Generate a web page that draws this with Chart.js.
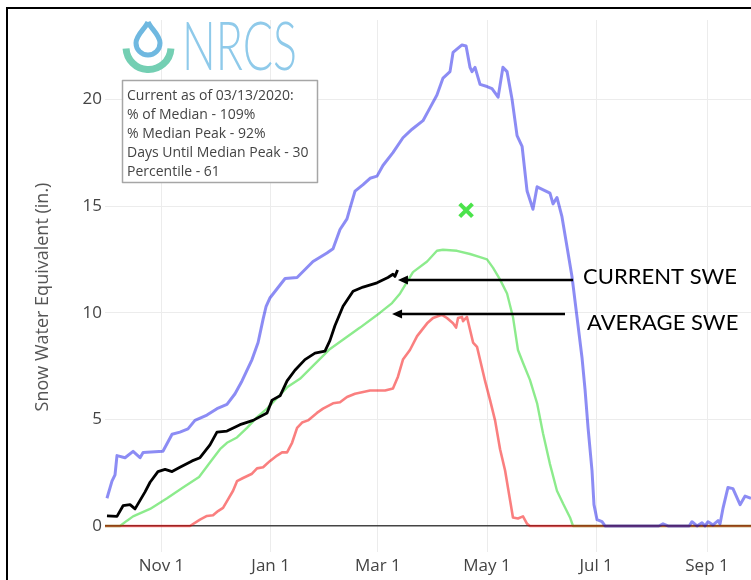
<!DOCTYPE html>
<html>
<head>
<meta charset="utf-8">
<script src="https://cdn.jsdelivr.net/npm/chart.js@4.4.1/dist/chart.umd.min.js"></script>
<style>
  html, body { margin: 0; padding: 0; background: #fff; }
  #wrap { position: relative; width: 751px; height: 580px; overflow: hidden; }
  #frame { position: absolute; left: 6px; top: 7px; width: 760px; height: 600px;
           border-left: 2px solid #000; border-top: 2px solid #000; pointer-events: none; }
  #swe { position: absolute; left: 0; top: 0; }
</style>
</head>
<body>
<div id="wrap">
  <canvas id="swe" width="751" height="580"></canvas>
  <div id="frame"></div>
</div>
<script>
// giorni dal 1 ottobre 2019 (anno idrologico 2020), valori SWE in pollici

// massimo storico (blu)
const MAX_DAYS = [0.5, 3.3, 5.0, 6.1, 10.6, 15.1, 19.0, 20.7, 31.8, 36.9, 41.3, 45.8, 49.7, 56.4, 62.0, 67.6, 72.1, 76.0,
  81.6, 85.0, 87.8, 89.5, 91.7, 100.1, 106.8, 115.7, 123.5, 126.9, 130.8, 134.7, 136.4, 139.2, 143.7, 147.6, 151.5, 154.8,
  160.4, 166.0, 171.1, 177.2, 181.1, 185.0, 188.4, 192.3, 194.0, 199.0, 201.3, 203.5, 204.6, 206.3, 209.1, 213.0, 215.8,
  219.2, 221.9, 224.2, 227.0, 229.8, 232.6, 235.4, 238.7, 241.0, 248.2, 249.9, 252.1, 254.9, 257.7, 260.5, 263.3, 266.1,
  267.8, 269.5, 271.7, 272.8, 274.5, 277.3, 279.0, 309.0, 311.4, 314.2, 326.0, 327.6, 330.4, 333.2, 334.9, 336.6, 339.4,
  342.2, 343.3, 345.0, 347.7, 350.5, 354.5, 357.3, 360.6];
const MAX_SWE = [1.3, 2.1, 2.4, 3.3, 3.2, 3.5, 3.2, 3.45, 3.5, 4.3, 4.4, 4.55, 4.95, 5.2, 5.5, 5.7, 6.2, 6.8,
  7.8, 8.6, 9.7, 10.3, 10.7, 11.6, 11.65, 12.4, 12.8, 13.0, 13.9, 14.4, 14.9, 15.7, 16.0, 16.3, 16.4, 16.9,
  17.5, 18.2, 18.6, 19.0, 19.6, 20.2, 21.0, 21.3, 22.2, 22.55, 22.5, 21.5, 21.3, 21.5, 20.7, 20.6, 20.5,
  20.1, 21.5, 21.3, 20.0, 18.3, 17.8, 15.7, 14.85, 15.9, 15.6, 15.1, 15.4, 14.5, 13.1, 11.7, 9.8, 7.9,
  6.4, 4.6, 2.6, 1.0, 0.3, 0.2, 0, 0, 0.1, 0, 0, 0.2, 0, 0.15, 0, 0.2, 0.05,
  0.25, 0.1, 0.85, 1.8, 1.75, 1.0, 1.4, 1.3];

// mediana (verde)
const MED_DAYS = [-0.6, 7.8, 11.7, 15.1, 24.6, 34.1, 43.0, 52.0, 58.7, 63.7, 67.6, 73.2, 78.8, 84.4, 90.0, 95.6, 101.2,
  108.4, 116.8, 125.2, 133.6, 142.0, 153.2, 159.9, 164.4, 171.6, 179.5, 185.0, 188.4, 196.2, 203.5, 209.1, 213.0,
  216.4, 220.3, 224.2, 227.5, 230.3, 233.1, 237.0, 241.0, 244.3, 248.2, 252.1, 255.5, 259.4, 261.1, 360.6];
const MED_SWE = [0, 0, 0.25, 0.45, 0.8, 1.3, 1.8, 2.3, 3.05, 3.6, 3.9, 4.15, 4.6, 5.1, 5.5, 6.0, 6.5,
  6.9, 7.6, 8.3, 8.8, 9.3, 10.0, 10.45, 10.9, 11.9, 12.4, 12.9, 12.95, 12.9, 12.75, 12.6, 12.5,
  12.1, 11.55, 10.9, 9.8, 8.25, 7.65, 6.85, 5.75, 4.35, 2.9, 1.65, 1.05, 0.4, 0, 0];

// minimo storico (rosso)
const MIN_DAYS = [-0.6, 46.9, 52.5, 56.4, 59.8, 62.6, 65.4, 68.2, 71.0, 73.2, 76.6, 81.6, 84.4, 87.8, 91.7, 95.6, 98.4,
  101.2, 104.0, 106.8, 109.6, 112.9, 117.9, 121.3, 126.9, 130.8, 134.7, 139.2, 147.6, 156.0, 160.4, 163.2, 166.0,
  169.9, 173.9, 179.5, 182.8, 187.8, 190.6, 194.0, 195.7, 196.8, 199.0, 199.6, 201.8, 203.5, 205.2, 207.4, 211.9,
  214.7, 217.5, 220.3, 223.1, 225.9, 227.5, 230.3, 233.1, 235.4, 237.0, 360.6];
const MIN_SWE = [0, 0, 0.3, 0.47, 0.5, 0.7, 0.85, 1.25, 1.65, 2.1, 2.25, 2.45, 2.7, 2.75, 3.05, 3.3, 3.45,
  3.45, 3.9, 4.6, 4.85, 4.95, 5.3, 5.5, 5.75, 5.8, 6.05, 6.2, 6.35, 6.35, 6.45, 7.0, 7.8,
  8.25, 8.9, 9.5, 9.75, 9.9, 9.75, 9.5, 9.3, 9.75, 9.8, 9.6, 9.8, 9.2, 8.6, 8.4, 6.8,
  5.9, 4.95, 3.6, 2.6, 1.2, 0.4, 0.35, 0.45, 0.1, 0, 0];

// anno corrente (nero)
const CUR_DAYS = [0.5, 6.1, 9.5, 13.4, 16.2, 19.0, 21.8, 24.6, 29.0, 33.0, 36.9, 41.3, 48.1, 52.5, 58.1, 62.0, 67.6,
  74.9, 82.2, 90.0, 92.8, 97.3, 101.2, 105.6, 111.2, 116.8, 122.4, 125.2, 128.0, 132.5, 138.1, 143.7, 151.5,
  157.6, 160.4, 161.5, 163.0];
const CUR_SWE = [0.47, 0.45, 0.95, 1.0, 0.8, 1.2, 1.6, 2.05, 2.55, 2.65, 2.55, 2.75, 3.05, 3.2, 3.8, 4.4, 4.45,
  4.75, 4.95, 5.3, 5.9, 6.1, 6.8, 7.3, 7.8, 8.1, 8.2, 8.7, 9.4, 10.3, 11.0, 11.2, 11.4,
  11.65, 11.8, 11.7, 12.0];

// picco mediano (x verde)
const PEAK_DAY = [201.3];
const PEAK_SWE = [14.8];

const TICK_DAYS = [31, 92, 152, 213, 274, 336];
const TICK_LABELS = ['Nov 1', 'Jan 1', 'Mar 1', 'May 1', 'Jul 1', 'Sep 1'];
const Y_TICKS = [0, 5, 10, 15, 20];

const INFO_LINES = [
  'Current as of 03/13/2020:',
  '% of Median - 109%',
  '% Median Peak - 92%',
  'Days Until Median Peak - 30',
  'Percentile - 61'
];

// frecce annotate (in unità dati)
const ARROW_LABELS = ['CURRENT SWE', 'AVERAGE SWE'];
const ARROW_TIP_DAY = [163.2, 159.9];
const ARROW_TAIL_DAY = [261.1, 256.6];
const ARROW_SWE = [11.53, 9.94];
const LABEL_DAY = [266.7, 268.9];
const LABEL_SWE = [11.67, 9.52];

const FONT = '"Open Sans", "Noto Sans", sans-serif';
const pts = (xs, ys) => xs.map((x, i) => ({ x: x, y: ys[i] }));

// logo, riquadro info, titolo asse y e frecce
const decor = {
  id: 'decor',
  afterDraw(chart) {
    const ctx = chart.ctx;
    const xs = chart.scales.x, ys = chart.scales.y;
    ctx.save();

    // titolo asse y
    ctx.save();
    ctx.translate(43, 297);
    ctx.rotate(-Math.PI / 2);
    ctx.font = '18px ' + FONT;
    ctx.fillStyle = '#555';
    ctx.textAlign = 'center';
    ctx.textBaseline = 'middle';
    ctx.fillText('Snow Water Equivalent (in.)', 0, 0);
    ctx.restore();

    // logo NRCS: arco verde acqua + goccia
    ctx.lineCap = 'butt';
    ctx.strokeStyle = '#74cfb3';
    ctx.lineWidth = 7;
    ctx.beginPath();
    ctx.arc(148.5, 47, 22.5, 0.02 * Math.PI, 0.98 * Math.PI, false);
    ctx.stroke();

    ctx.strokeStyle = '#6fb8e0';
    ctx.lineWidth = 5;
    ctx.lineJoin = 'round';
    ctx.beginPath();
    ctx.moveTo(148, 22);
    ctx.bezierCurveTo(151, 29, 160, 35, 160, 43);
    ctx.arc(148, 43, 12, 0, Math.PI, false);
    ctx.bezierCurveTo(136, 35, 145, 29, 148, 22);
    ctx.stroke();

    ctx.save();
    ctx.font = '300 67px Lato, ' + FONT;
    const w = ctx.measureText('NRCS').width;
    ctx.translate(182, 70);
    ctx.scale(115 / w, 1);
    ctx.fillStyle = '#8fcaea';
    ctx.textBaseline = 'alphabetic';
    ctx.fillText('NRCS', 0, 0);
    ctx.restore();

    // riquadro statistiche
    ctx.fillStyle = '#fff';
    ctx.fillRect(122.5, 80.5, 195, 102);
    ctx.strokeStyle = '#a6a6a6';
    ctx.lineWidth = 1.5;
    ctx.strokeRect(122.5, 80.5, 195, 102);
    ctx.font = '14px ' + FONT;
    ctx.fillStyle = '#444';
    ctx.textAlign = 'left';
    ctx.textBaseline = 'middle';
    INFO_LINES.forEach((t, i) => ctx.fillText(t, 127, 96 + i * 19));

    // frecce e etichette
    ctx.strokeStyle = '#000';
    ctx.fillStyle = '#000';
    ARROW_LABELS.forEach((label, i) => {
      const y = ys.getPixelForValue(ARROW_SWE[i]);
      const tip = xs.getPixelForValue(ARROW_TIP_DAY[i]);
      const tail = xs.getPixelForValue(ARROW_TAIL_DAY[i]);
      ctx.lineWidth = 2.5;
      ctx.beginPath();
      ctx.moveTo(tail, y);
      ctx.lineTo(tip + 8, y);
      ctx.stroke();
      ctx.beginPath();
      ctx.moveTo(tip, y);
      ctx.lineTo(tip + 10, y - 4.5);
      ctx.lineTo(tip + 10, y + 4.5);
      ctx.closePath();
      ctx.fill();

      ctx.font = '22px Lato, ' + FONT;
      ctx.textAlign = 'left';
      ctx.textBaseline = 'middle';
      ctx.fillText(label, xs.getPixelForValue(LABEL_DAY[i]), ys.getPixelForValue(LABEL_SWE[i]));
    });

    ctx.restore();
  }
};

const line = (data, color, width) => ({
  data: data,
  borderColor: color,
  borderWidth: width,
  pointRadius: 0,
  tension: 0,
  borderJoinStyle: 'round',
  fill: false
});

new Chart(document.getElementById('swe'), {
  type: 'line',
  data: {
    datasets: [
      {
        type: 'scatter',
        data: pts(PEAK_DAY, PEAK_SWE),
        pointStyle: 'crossRot',
        pointRadius: 9,
        borderColor: '#4be34b',
        borderWidth: 4,
        showLine: false
      },
      line(pts(CUR_DAYS, CUR_SWE), '#000', 2.8),
      line(pts(MAX_DAYS, MAX_SWE), 'rgba(0, 0, 230, 0.45)', 3),
      line(pts(MIN_DAYS, MIN_SWE), 'rgba(245, 0, 0, 0.5)', 2.6),
      line(pts(MED_DAYS, MED_SWE), 'rgba(0, 210, 0, 0.45)', 2.4)
    ]
  },
  options: {
    responsive: false,
    animation: false,
    // autoPadding spento: altrimenti il marker x restringe l'area a destra
    layout: { autoPadding: false, padding: { top: 20, right: 0, bottom: 0, left: 0 } },
    plugins: { legend: { display: false }, tooltip: { enabled: false } },
    scales: {
      x: {
        type: 'linear',
        min: -0.6,
        max: 360.6,
        afterBuildTicks: s => { s.ticks = TICK_DAYS.map(v => ({ value: v })); },
        afterFit: s => { s.height = 28; s.paddingLeft = 0; s.paddingRight = 0; },
        border: { display: false },
        grid: { color: '#ececec', lineWidth: 1, drawTicks: false },
        ticks: {
          color: '#444',
          font: { family: FONT, size: 17 },
          padding: 4,
          maxRotation: 0,
          autoSkip: false,
          callback: (v, i) => TICK_LABELS[i]
        }
      },
      y: {
        min: -1.22,
        max: 23.72,
        afterBuildTicks: s => { s.ticks = Y_TICKS.map(v => ({ value: v })); },
        afterFit: s => { s.width = 105; },
        border: { display: false },
        grid: {
          color: c => (c.tick && c.tick.value === 0) ? '#444' : '#ececec',
          lineWidth: c => (c.tick && c.tick.value === 0) ? 1.5 : 1,
          drawTicks: false
        },
        ticks: { color: '#444', font: { family: FONT, size: 17 }, padding: 3 }
      }
    }
  },
  plugins: [decor]
});
</script>
</body>
</html>
